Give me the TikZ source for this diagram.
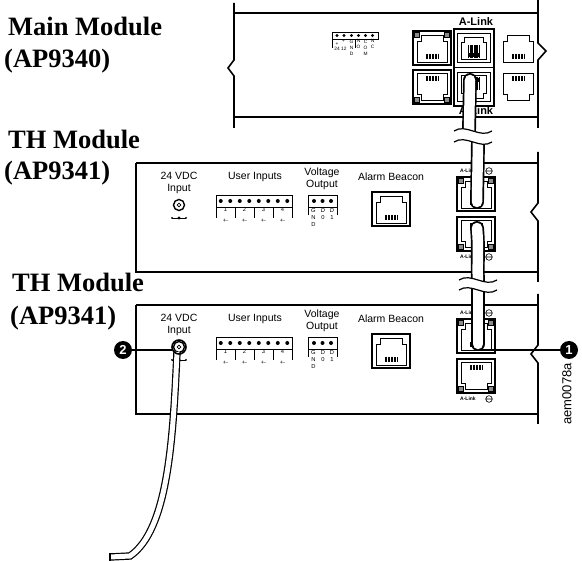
\documentclass[tikz,border=0pt]{standalone}
\usepackage{fontspec}
\setmainfont{Liberation Serif}
\setsansfont{Liberation Sans}
\usetikzlibrary{calc}

\tikzset{
  panel/.style={line width=1.6pt},
  modtitle/.style={font=\fontsize{26.5}{30}\selectfont\bfseries, anchor=base west, inner sep=0pt},
  paneltext/.style={font=\sffamily\fontsize{10.5}{11.5}\selectfont, inner sep=0pt, align=center},
  pintext/.style={font=\sffamily\fontsize{5.8}{7}\selectfont, inner sep=0pt, align=center, anchor=north},
  relaytext/.style={font=\sffamily\fontsize{4.8}{6}\selectfont, inner sep=0pt, align=center, anchor=north},
  linkmark/.style={font=\sffamily\bfseries\fontsize{5}{5}\selectfont, inner sep=0pt},
  cable/.style={double, double distance=10.5pt, line width=1.7pt, line cap=round},
  powercord/.style={double, double distance=5pt, line width=1.2pt},
  badge/.style={circle, fill=black, text=white, inner sep=0pt, minimum size=18pt, font=\sffamily\bfseries\fontsize{13}{13}\selectfont},
  leader/.style={line width=1.1pt},
}

% RJ45 opening, tab up, centred on the origin
\def\drawOpening{
\draw[line width=0.8pt] (-15,14) -- (-15,-7) -- (-11,-7) -- (-11,-13) -- (11,-13) -- (11,-7) -- (15,-7) -- (15,14) -- cycle;
\foreach \i in {-6,-4.5,...,6} \draw[line width=0.45pt] (\i,6) -- (\i,11);
}
\def\drawJack{
\draw[line width=1.1pt] (-19,-17) rectangle (19,17);
\drawOpening
}
\def\drawLeds{
\draw[line width=0.6pt, fill=black!45] (-17.5,-15.5) rectangle (-12.5,-10.5);
\draw[line width=0.6pt, fill=black!45] (12.5,-15.5) rectangle (17.5,-10.5);
}

\newcommand{\drawTHModule}[1]{
\draw[panel] (136,163) -- (538,163);
\draw[panel] (136,163) -- (136,272) -- (538,272);
\draw[panel] (538,152) -- (538,203) -- (531,212) -- (538,221) -- (538,282);
% power input
\node[paneltext] (#1vdc) at (179,183) {24 VDC\\Input};
\draw[line width=1.4pt] (179,205) circle (5.5);
\draw[line width=0.7pt] (179,205) circle (1.8);
\draw[line width=0.6pt] (172,218) -- (186,218);
\fill (172,218) circle (1) (179,218) circle (1.6) (186,218) circle (1);
% user inputs
\node[paneltext] (#1inputs) at (255,177) {User Inputs};
\draw[line width=0.9pt] (216,195) rectangle (292,207);
\foreach \k in {0,...,7} \fill (220.75+9.5*\k,201) circle (2);
\foreach \x in {216,235,254,273,292} \draw[line width=0.6pt] (\x,207) -- (\x,218);
\foreach \n in {1,...,4} {
  \node[pintext] at (206.5+19*\n,207.5) {\n};
  \node[pintext] at (206.5+19*\n,219) {+-};
}
% voltage output
\node[paneltext] (#1volt) at (322,179) {Voltage\\Output};
\draw[line width=0.9pt] (308,195) rectangle (337,207);
\foreach \x in {314,322.5,331} \fill (\x,201) circle (2);
\draw[line width=0.6pt] (308,207) -- (308,215) (337,207) -- (337,215);
\node[pintext] at (313.5,208.5) {\pinshape G\\N\\D};
\node[pintext] at (323,208.5) {\pinshape D\\0};
\node[pintext] at (332,208.5) {\pinshape D\\1};
% alarm beacon
\node[paneltext] (#1beacon) at (391,177) {Alarm Beacon};
\begin{scope}[shift={(391,209)}] \drawJack \end{scope}
% a-link ports
\begin{scope}[shift={(476,194)}] \drawJack \drawLeds \end{scope}
\begin{scope}[shift={(476,234)}, yscale=-1] \drawJack \drawLeds \end{scope}
\node[linkmark] (#1linkA) at (468,171) {A-Link};
\draw[line width=0.6pt] (489,171) circle (3.3) (486,171) -- (492,171);
\node[linkmark] (#1linkB) at (468,257) {A-Link};
\draw[line width=0.6pt] (489,257) circle (3.3) (486,257) -- (492,257);
}

\newcommand{\cableBreak}[3]{
\fill[white] (#1-19,#2) .. controls (#1-7,#2-8) and (#1+7,#2+8) .. (#1+19,#2) -- (#1+19,#3) .. controls (#1+7,#3+8) and (#1-7,#3-8) .. (#1-19,#3) -- cycle;
\draw[line width=1.2pt] (#1-19,#2) .. controls (#1-7,#2-8) and (#1+7,#2+8) .. (#1+19,#2);
\draw[line width=1.2pt] (#1-19,#3) .. controls (#1-7,#3-8) and (#1+7,#3+8) .. (#1+19,#3);
}

\begin{document}
\begin{tikzpicture}[x=1pt, y=-1pt]
\useasboundingbox (0,0) rectangle (582,561);

% titles
\node[modtitle] (mainname) at (8,36) {Main Module};
\node[modtitle] (mainpart) at (4,68) {(AP9340)};
\node[modtitle] (thname) at (8,149) {TH Module};
\node[modtitle] (thpart) at (4,180) {(AP9341)};
\node[modtitle] (lowname) at (12,292) {TH Module};
\node[modtitle] (lowpart) at (10,325) {(AP9341)};

% main module
\draw[panel] (234,3) -- (234,60) -- (228,68) -- (234,76) -- (234,128);
\draw[panel] (538,0) -- (538,43) -- (546,51) -- (538,60) -- (538,128);
\draw[panel] (234,13) -- (538,13) (234,117) -- (538,117);
\draw[line width=0.8pt] (332,32) rectangle (378,39);
\foreach \x in {337,344,351.5,358.5,365.5,372.5} \fill (\x,35.5) circle (1.7);
\draw[line width=0.5pt] (332,39) -- (332,48) (355,39) -- (355,48);
\node[relaytext, anchor=center] at (337,44.5) {+};
\node[relaytext, anchor=center] at (343.5,41.5) {+};
\node[relaytext, anchor=center] at (337,48.5) {24};
\node[relaytext, anchor=center] at (343.8,48.5) {12};
\node[relaytext] at (351.5,39.5) {G\\N\\D};
\node[relaytext] at (358.5,39.5) {N\\O};
\node[relaytext] at (365.5,39.5) {C\\O\\M};
\node[relaytext] at (372.5,39.5) {N\\C};
\begin{scope}[shift={(432,48)}] \drawJack \drawLeds \end{scope}
\begin{scope}[shift={(432,87)}, yscale=-1] \drawJack \drawLeds \end{scope}
\draw[line width=1.3pt] (454,29) rectangle (494,106) (454,67.5) -- (494,67.5);
\begin{scope}[shift={(474,48)}, scale=0.85]
  \drawJack
  \foreach \i in {-6,-4.5,...,6} \draw[line width=1pt] (\i,-3) -- (\i,12);
\end{scope}
\begin{scope}[shift={(474,87)}, yscale=-0.85, xscale=0.85]
  \drawJack
  \foreach \i in {-6,-4.5,...,6} \draw[line width=1pt] (\i,-3) -- (\i,12);
\end{scope}
\begin{scope}[shift={(518,48)}] \drawOpening \end{scope}
\begin{scope}[shift={(518,87)}, yscale=-1] \drawOpening \end{scope}
\node[font=\sffamily\bfseries\fontsize{11}{11}\selectfont, inner sep=0pt] (linktop) at (476,22) {A-Link};
\node[font=\sffamily\bfseries\fontsize{11}{11}\selectfont, inner sep=0pt] (linkbottom) at (476,111) {A-Link};

% th modules
\def\pinshape{\itshape}
\drawTHModule{mid}
\def\pinshape{}
\begin{scope}[shift={(0,142)}]
\drawTHModule{low}
\end{scope}

% power cord
\coordinate (jackB) at (177,352);
\coordinate (cordEnd) at (110,557);
\draw[powercord] (jackB) .. controls (173,440) and (168,530) .. (130,556) -- (cordEnd);
\draw[line width=1.2pt] (110,553.3) -- (110,560.7);
\draw[line width=1.6pt] (179,347) circle (7);

% link cables
\coordinate (plugA) at (470,80);
\coordinate (cutA) at (469,131);
\coordinate (cutB) at (478,142);
\coordinate (plugB) at (477,202);
\coordinate (plugC) at (477,228);
\coordinate (cutC) at (478,280);
\coordinate (cutD) at (478,290);
\coordinate (plugD) at (478,344);
\draw[cable] (plugA) -- (cutA);
\draw[cable] (cutB) -- (plugB);
\draw[cable] (plugC) .. controls (479,250) and (477,265) .. (cutC);
\draw[cable] (cutD) -- (plugD);
\cableBreak{473}{131}{142}
\cableBreak{478}{280}{290}

% callouts
\node[badge] (one) at (569,350) {1};
\coordinate (oneTip) at (480,350);
\draw[leader] (oneTip) -- (one);
\node[badge] (two) at (123,350) {2};
\coordinate (twoTip) at (172,350);
\draw[leader] (two) -- (twoTip);

\node[font=\sffamily\fontsize{13}{13}\selectfont, rotate=90, inner sep=0pt] (code) at (567,394) {aem0078a};
\end{tikzpicture}
\end{document}
